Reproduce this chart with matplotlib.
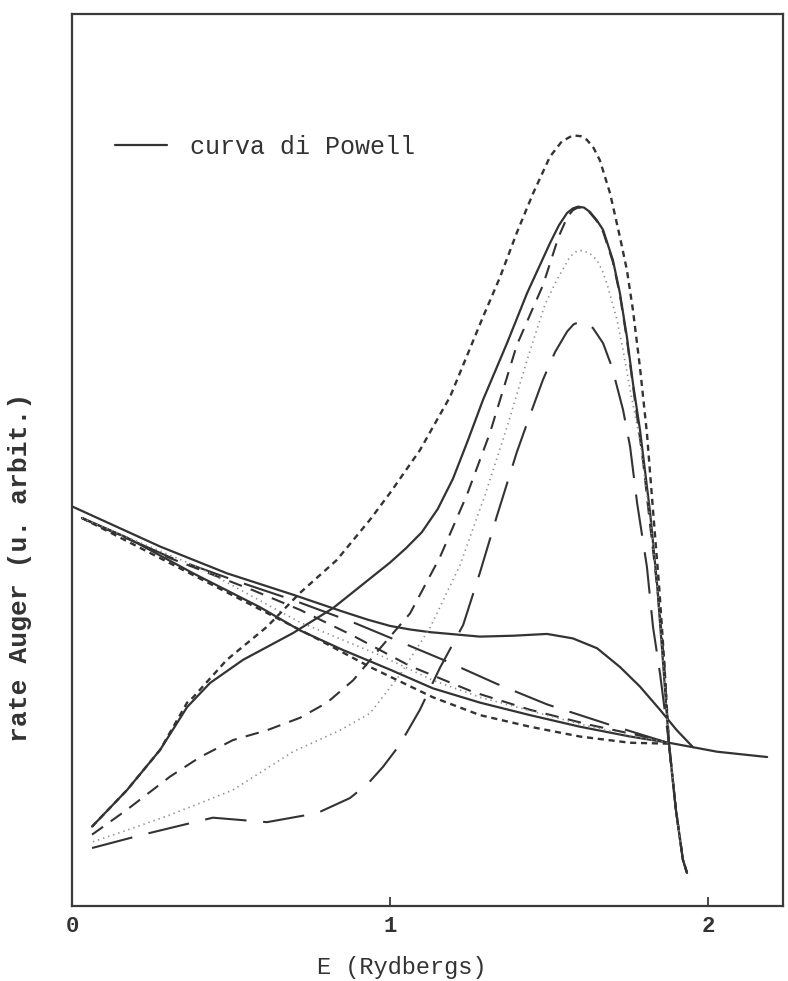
import matplotlib.pyplot as plt

# E in Rydberg, rate Auger in unita' arbitrarie (0-100)

# curva di Powell (continua, con gobba e coda fino a 2.2 Ry)
E_powell = [0.0, 0.277, 0.487, 0.695, 0.852, 0.93, 1.0, 1.063, 1.126, 1.283, 1.387, 1.494,
            1.575, 1.651, 1.723, 1.786, 1.849, 1.902, 1.953, 2.028, 2.186]
R_powell = [44.8, 40.3, 37.3, 34.9, 33.0, 32.1, 31.4, 31.0, 30.7, 30.2, 30.3, 30.5,
            30.0, 28.9, 26.8, 24.6, 22.0, 19.7, 17.8, 17.3, 16.7]

# curve decrescenti
E_sol_dec = [0.031, 0.173, 0.381, 0.591, 0.717, 0.852, 1.0, 1.135, 1.283, 1.44,
             1.597, 1.755, 1.877, 1.953]
R_sol_dec = [43.5, 41.3, 37.3, 33.5, 30.9, 28.7, 26.5, 24.4, 22.8, 21.4,
             20.1, 19.0, 18.3, 17.8]

E_fd_dec = [0.031, 0.381, 0.758, 0.937, 1.135, 1.283, 1.44, 1.597, 1.755, 1.877]
R_fd_dec = [43.5, 37.1, 30.2, 26.8, 23.4, 21.4, 20.1, 19.0, 18.3, 18.2]

E_ld_dec = [0.031, 0.308, 0.519, 0.695, 0.884, 1.053, 1.167, 1.336, 1.494, 1.701, 1.874]
R_ld_dec = [43.5, 39.1, 36.4, 34.3, 31.8, 29.3, 27.6, 24.9, 22.6, 20.2, 18.3]

E_md_dec = [0.031, 0.308, 0.569, 0.717, 0.884, 1.063, 1.261, 1.44, 1.629, 1.786, 1.874]
R_md_dec = [43.5, 39.0, 35.4, 33.2, 30.3, 26.9, 24.0, 22.0, 20.3, 19.1, 18.3]

E_dot_dec = [0.031, 0.403, 0.717, 0.969, 1.135, 1.283, 1.44, 1.597, 1.755, 1.874]
R_dot_dec = [43.5, 37.9, 31.8, 28.1, 25.3, 23.4, 21.9, 20.4, 19.1, 18.3]

# curve con picco
E_sol_pk = [0.063, 0.173, 0.277, 0.362, 0.434, 0.538, 0.695, 0.821, 1.0, 1.05,
            1.1, 1.15, 1.198, 1.245, 1.292, 1.368, 1.431, 1.503, 1.531, 1.557,
            1.575, 1.591, 1.61, 1.629, 1.65, 1.67, 1.701, 1.723, 1.745, 1.764,
            1.786, 1.818, 1.84, 1.858, 1.877, 1.899, 1.921, 1.934]
R_sol_pk = [8.9, 13.0, 17.5, 22.3, 25.0, 27.6, 30.6, 33.4, 38.5, 40.1,
            41.9, 44.5, 47.9, 52.2, 56.7, 63.1, 68.7, 74.3, 76.3, 77.7,
            78.2, 78.4, 78.3, 77.8, 76.9, 75.8, 72.4, 68.7, 63.8, 58.6,
            53.4, 44.1, 36.0, 27.6, 18.3, 10.8, 5.2, 3.7]

E_fd_pk = [0.063, 0.173, 0.277, 0.362, 0.381, 0.487, 0.613, 0.717, 0.833, 0.937,
           1.0, 1.094, 1.189, 1.292, 1.346, 1.399, 1.45, 1.503, 1.54, 1.575,
           1.6, 1.619, 1.64, 1.66, 1.692, 1.723, 1.745, 1.764, 1.786, 1.808,
           1.827, 1.846, 1.862, 1.877, 1.899, 1.921, 1.934]
R_fd_pk = [8.9, 13.0, 17.5, 22.8, 23.4, 27.6, 31.3, 35.1, 38.8, 43.3,
           46.3, 51.1, 57.1, 66.0, 70.5, 75.5, 79.9, 84.0, 85.7, 86.4,
           86.3, 85.9, 85.0, 83.6, 79.9, 75.0, 71.3, 66.8, 60.4, 53.0,
           44.4, 36.0, 27.6, 18.3, 10.8, 5.2, 3.7]

E_md_pk = [0.063, 0.173, 0.308, 0.403, 0.506, 0.613, 0.717, 0.802, 0.884, 0.969,
           1.063, 1.157, 1.242, 1.314, 1.399, 1.481, 1.53, 1.557, 1.575, 1.591,
           1.61, 1.629, 1.65, 1.67, 1.701, 1.723, 1.745, 1.77, 1.796, 1.818,
           1.843, 1.862, 1.877, 1.899, 1.921, 1.934]
R_md_pk = [8.0, 10.8, 14.5, 16.7, 18.6, 19.7, 21.1, 22.8, 25.3, 28.9,
           32.8, 39.1, 46.1, 53.0, 62.9, 69.6, 75.0, 77.2, 78.0, 78.3,
           78.2, 77.7, 76.8, 75.6, 72.2, 68.5, 63.5, 56.7, 49.8, 42.7,
           34.9, 27.4, 18.3, 10.8, 5.2, 3.7]

E_dot_pk = [0.066, 0.173, 0.308, 0.506, 0.695, 0.843, 0.937, 1.031, 1.126, 1.22,
            1.299, 1.368, 1.431, 1.487, 1.525, 1.566, 1.587, 1.607, 1.63, 1.651,
            1.667, 1.682, 1.714, 1.733, 1.755, 1.786, 1.818, 1.84, 1.858, 1.877,
            1.899, 1.921, 1.934]
R_dot_pk = [7.2, 8.5, 10.2, 13.0, 17.3, 19.7, 21.6, 25.9, 31.2, 38.2,
            46.1, 53.7, 61.2, 67.4, 70.2, 72.8, 73.4, 73.5, 73.1, 72.4,
            71.3, 69.8, 65.7, 62.3, 57.9, 52.2, 43.3, 36.0, 27.6, 18.3,
            10.8, 5.2, 3.7]

E_ld_pk = [0.063, 0.223, 0.443, 0.613, 0.77, 0.874, 0.93, 0.978, 1.031, 1.094, 1.157,
           1.23, 1.283, 1.336, 1.399, 1.44, 1.481, 1.519, 1.557, 1.577, 1.597,
           1.618, 1.638, 1.67, 1.698, 1.733, 1.755, 1.777, 1.808, 1.827, 1.849,
           1.877, 1.899, 1.921, 1.934]
R_ld_pk = [6.5, 8.0, 9.9, 9.4, 10.4, 12.1, 13.7, 15.6, 18.1, 22.0, 26.7,
           31.5, 37.4, 43.7, 50.9, 55.0, 59.0, 62.1, 64.4, 65.2, 65.5,
           65.3, 64.8, 63.1, 60.4, 55.6, 51.5, 45.2, 38.0, 31.3, 26.1,
           18.3, 10.8, 5.2, 3.7]

x_ticks = [0, 1, 2]

ink = '#333333'
mono = 'Liberation Mono'

fig = plt.figure(figsize=(7.88, 9.81), dpi=100, facecolor='white')
ax = fig.add_axes([72 / 788, 75 / 981, 711 / 788, 892 / 981])

# stili delle famiglie di curve
solid = dict(color=ink, lw=1.6, solid_capstyle='round', solid_joinstyle='round')
fine = dict(color=ink, lw=1.7, dashes=(2.6, 2.0))
medium = dict(color=ink, lw=1.5, dashes=(6.5, 4.5))
longd = dict(color=ink, lw=1.5, dashes=(20, 8))
dots = dict(color='#8c8c8c', lw=1.2, dashes=(0.8, 2.4))

powell, = ax.plot(E_powell, R_powell, label='curva di Powell', **solid)
ax.plot(E_sol_dec, R_sol_dec, **solid)
ax.plot(E_fd_dec, R_fd_dec, **fine)
ax.plot(E_ld_dec, R_ld_dec, **longd)
ax.plot(E_md_dec, R_md_dec, **medium)
ax.plot(E_dot_dec, R_dot_dec, **dots)

ax.plot(E_sol_pk, R_sol_pk, **solid)
ax.plot(E_fd_pk, R_fd_pk, **fine)
ax.plot(E_md_pk, R_md_pk, **medium)
ax.plot(E_dot_pk, R_dot_pk, **dots)
ax.plot(E_ld_pk, R_ld_pk, **longd)

ax.set_xlim(0, 711 / 318)
ax.set_ylim(0, 100)

for s in ax.spines.values():
    s.set_color('#3a3a3a')
    s.set_linewidth(1.6)

ax.set_xticks(x_ticks)
ax.set_xticklabels([str(t) for t in x_ticks], family=mono, fontsize=16, fontweight='bold',
                   color='#333333')
ax.tick_params(axis='x', direction='in', length=6.5, width=1.3, pad=7, color='#3a3a3a')
ax.tick_params(axis='y', left=False, labelleft=False)

ax.set_xlabel('E (Rydbergs)', family=mono, fontsize=17, color='#333333')
ax.xaxis.label.set_va('center')
ax.xaxis.set_label_coords(0.464, -0.0695)

ax.set_ylabel('rate Auger (u. arbit.)', family=mono, fontsize=19, fontweight='bold',
              color='#333333')
ax.yaxis.label.set_va('center')
ax.yaxis.set_label_coords(-0.073, 0.38)

ax.legend(handles=[powell], loc='center left', bbox_to_anchor=(0.06, 0.851),
          frameon=False, borderpad=0, borderaxespad=0, handlelength=2.1,
          handletextpad=0.9, prop=dict(family=mono, size=18), labelcolor='#333333')

fig.savefig('out.png', dpi=100, facecolor='white')
